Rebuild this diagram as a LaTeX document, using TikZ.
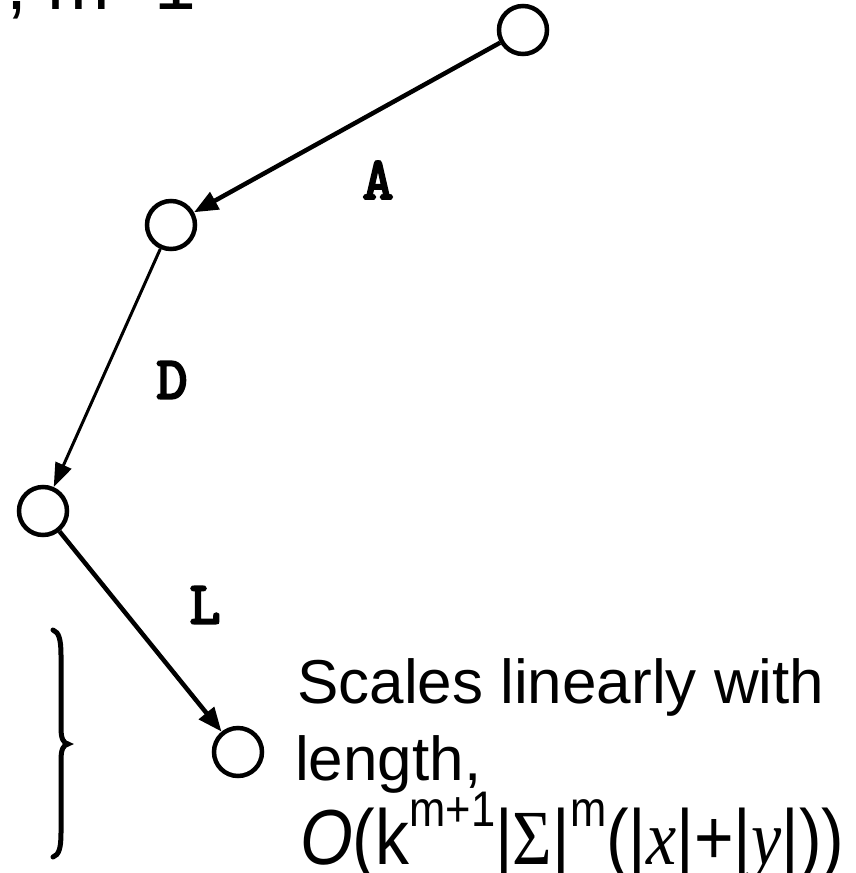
\documentclass[tikz,border=0pt]{standalone}
\usepackage{fontspec}
\setmainfont{Liberation Sans}
\newfontfamily\tms{Liberation Serif}
\newfontfamily\courb[FakeBold=4]{Latin Modern Mono}
\usetikzlibrary{arrows.meta}
\begin{document}
\begin{tikzpicture}[x=1pt,y=-1pt,
  state/.style={circle,draw,line width=4.5pt,inner sep=0pt,minimum size=48pt},
  edgethick/.style={line width=4.5pt,-{Triangle[length=24pt,width=19pt]}},
  edgethin/.style={line width=3pt,-{Triangle[length=24pt,width=17pt]}},
  lab/.style={font=\courb\fontsize{60}{64}\selectfont,inner sep=0pt},
  body/.style={font=\fontsize{62}{70}\selectfont,inner sep=0pt,anchor=base west}]
\useasboundingbox (0,0) rectangle (856,873);
\node[state] (n1) at (523,30) {};
\node[state] (n2) at (171,225) {};
\node[state] (n3) at (43,511) {};
\node[state] (n4) at (238,752) {};
\draw[edgethick] (n1) -- (n2);
\draw[edgethin] (n2) -- (n3);
\draw[edgethick] (n3) -- (n4);
\node[lab] (la) at (378,180) {A};
\node[lab] (ld) at (172,380) {D};
\node[lab] (ll) at (205,605) {L};
\node[inner sep=0pt,anchor=base west,font=\fontsize{75}{80}\selectfont] (top) at (6,9) {, m=1};
\draw[line width=5pt,line cap=round]
  (53,630) .. controls (59,632) and (61,640) .. (61,655) -- (61,728)
  .. controls (61,738) and (63,743) .. (68,744)
  .. controls (63,745) and (61,750) .. (61,760) -- (61,833)
  .. controls (61,848) and (59,855) .. (53,857);
\node[body] (t1) at (297,703) {Scales linearly with};
\node[body] (t2) at (295,780) {length,};
\node[inner sep=0pt,anchor=base west] (t3) at (300,864) {\scalebox{0.87}[1]{\fontsize{78}{90}\selectfont\textit{O}(k\raisebox{0.48em}{\fontsize{50}{54}\selectfont m+1}|{\tms Σ}|\raisebox{0.48em}{\fontsize{50}{54}\selectfont m}(|{\tms\itshape x}|+|{\tms\itshape y}|))}};
\end{tikzpicture}
\end{document}
